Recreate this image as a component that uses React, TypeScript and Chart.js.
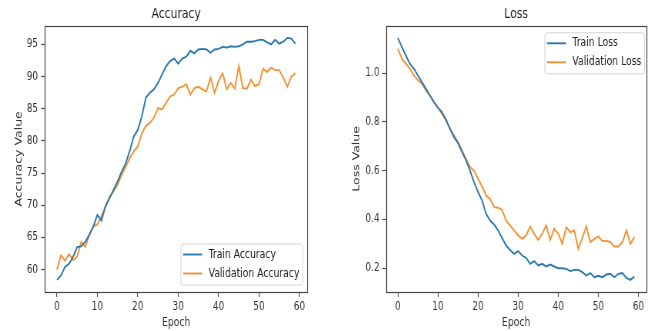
import React, { useEffect, useRef } from "react";
import { Chart, registerables } from "chart.js";

Chart.register(...registerables);

const FONT = "'DejaVu Sans', sans-serif";
// horizontal squeeze of the whole picture (the reference is horizontally compressed)
const K = 0.77;

const epochs = [
  0, 1, 2, 3, 4, 5, 6, 7, 8, 9, 10, 11, 12, 13, 14, 15, 16, 17, 18, 19,
  20, 21, 22, 23, 24, 25, 26, 27, 28, 29, 30, 31, 32, 33, 34, 35, 36, 37, 38, 39,
  40, 41, 42, 43, 44, 45, 46, 47, 48, 49, 50, 51, 52, 53, 54, 55, 56, 57, 58, 59,
];

const trainAcc = [
  58.4, 59.1, 60.4, 60.9, 62.0, 63.5, 63.6, 64.3, 65.4, 66.7,
  68.5, 67.6, 69.8, 71.1, 72.4, 73.7, 75.2, 76.5, 78.4, 80.7,
  81.7, 83.8, 86.7, 87.5, 88.0, 89.0, 90.3, 91.6, 92.4, 92.8,
  92.0, 92.8, 93.1, 94.0, 93.6, 94.2, 94.3, 94.2, 93.7, 94.2,
  94.3, 94.6, 94.5, 94.7, 94.6, 94.7, 95.0, 95.4, 95.4, 95.5,
  95.7, 95.7, 95.3, 95.0, 95.7, 95.1, 95.4, 96.0, 95.9, 95.1,
];

const valAcc = [
  60.0, 62.2, 61.4, 62.4, 61.5, 62.0, 64.3, 63.5, 65.4, 66.7,
  67.0, 68.3, 69.8, 71.3, 72.1, 73.2, 74.7, 76.0, 77.3, 78.4,
  79.1, 81.2, 82.3, 82.8, 83.6, 85.1, 84.9, 85.9, 86.9, 87.2,
  88.2, 88.4, 88.8, 87.2, 88.2, 88.4, 88.0, 87.7, 89.8, 87.5,
  89.3, 90.5, 88.0, 89.0, 88.1, 91.6, 88.2, 88.1, 89.5, 88.5,
  88.8, 91.2, 90.7, 91.4, 91.0, 91.0, 89.8, 88.4, 90.0, 90.5,
];

const trainLoss = [
  1.144, 1.107, 1.072, 1.038, 1.018, 0.990, 0.963, 0.936, 0.908, 0.881,
  0.858, 0.840, 0.809, 0.772, 0.737, 0.713, 0.676, 0.642, 0.600, 0.553,
  0.512, 0.478, 0.423, 0.395, 0.379, 0.355, 0.324, 0.293, 0.275, 0.259,
  0.270, 0.252, 0.242, 0.218, 0.229, 0.211, 0.218, 0.207, 0.215, 0.207,
  0.200, 0.200, 0.197, 0.188, 0.193, 0.193, 0.184, 0.170, 0.180, 0.163,
  0.169, 0.163, 0.174, 0.177, 0.163, 0.177, 0.180, 0.160, 0.152, 0.166,
];

const valLoss = [
  1.100, 1.059, 1.038, 1.018, 0.990, 0.970, 0.956, 0.929, 0.908, 0.881,
  0.858, 0.833, 0.806, 0.772, 0.744, 0.717, 0.683, 0.649, 0.614, 0.600,
  0.566, 0.535, 0.498, 0.484, 0.450, 0.448, 0.439, 0.395, 0.375, 0.355,
  0.334, 0.320, 0.334, 0.371, 0.341, 0.316, 0.341, 0.375, 0.316, 0.361,
  0.341, 0.300, 0.368, 0.348, 0.355, 0.279, 0.324, 0.371, 0.307, 0.320,
  0.330, 0.311, 0.313, 0.307, 0.289, 0.289, 0.307, 0.355, 0.300, 0.327,
];

const xTicks = [0, 10, 20, 30, 40, 50, 60];
const accTicks = [60, 65, 70, 75, 80, 85, 90, 95];
const lossTicks = [0.2, 0.4, 0.6, 0.8, 1.0];

const BLUE = "#2b78ae";
const ORANGE = "#f39130";

const framePlugin = {
  id: "frame",
  afterDraw(chart: any) {
    const { ctx, chartArea } = chart;
    ctx.save();
    ctx.strokeStyle = "#444";
    ctx.lineWidth = 1.2;
    ctx.strokeRect(
      Math.round(chartArea.left) + 0.5,
      Math.round(chartArea.top) + 0.5,
      Math.round(chartArea.right - chartArea.left),
      Math.round(chartArea.bottom - chartArea.top)
    );
    ctx.restore();
  },
};

const legendPlugin = {
  id: "mplLegend",
  afterDraw(chart: any, _args: any, opts: any) {
    const { ctx, chartArea } = chart;
    const ds = chart.data.datasets;
    ctx.save();
    ctx.font = `12px ${FONT}`;
    const textW = Math.max(...ds.map((d: any) => ctx.measureText(d.label).width));
    const w = (28 + 3) / K + textW;
    const h = 41;
    const x = chartArea.right - opts.padX / K - w;
    const y = opts.loc === "lower right" ? chartArea.bottom - opts.padY - h : chartArea.top + opts.padY;
    ctx.beginPath();
    (ctx as any).roundRect(x + 0.5, y + 0.5, w, h, 3);
    ctx.fillStyle = "rgba(255,255,255,0.85)";
    ctx.fill();
    ctx.strokeStyle = "#d4d4d4";
    ctx.lineWidth = 1;
    ctx.stroke();
    ds.forEach((d: any, i: number) => {
      const cy = y + 11 + i * 19;
      ctx.beginPath();
      ctx.moveTo(x + 2.5 / K, cy);
      ctx.lineTo(x + 21.5 / K, cy);
      ctx.strokeStyle = d.borderColor;
      ctx.lineWidth = 1.9;
      ctx.stroke();
      ctx.fillStyle = "#222";
      ctx.textBaseline = "middle";
      ctx.textAlign = "left";
      ctx.fillText(d.label, x + 28 / K, cy);
    });
    ctx.restore();
  },
};

function range(a: number[], b: number[]) {
  const all = a.concat(b);
  const mn = Math.min(...all);
  const mx = Math.max(...all);
  const m = (mx - mn) * 0.05;
  return [mn - m, mx + m];
}

function makeConfig(p: any) {
  const [ymin, ymax] = range(p.a, p.b);
  const xm = (epochs[epochs.length - 1] - epochs[0]) * 0.05;
  return {
    type: "line",
    data: {
      datasets: [
        { label: p.la, data: epochs.map((e, i) => ({ x: e, y: p.a[i] })), borderColor: BLUE, backgroundColor: BLUE, borderWidth: 1.9, pointRadius: 0, tension: 0 },
        { label: p.lb, data: epochs.map((e, i) => ({ x: e, y: p.b[i] })), borderColor: ORANGE, backgroundColor: ORANGE, borderWidth: 1.9, pointRadius: 0, tension: 0 },
      ],
    },
    options: {
      animation: false,
      responsive: false,
      devicePixelRatio: 1,
      layout: { padding: { left: 0, right: p.padRight / K, top: 0, bottom: 0 } },
      plugins: {
        legend: { display: false },
        tooltip: { enabled: false },
        title: {
          display: true,
          text: p.title,
          fullSize: false,
          color: "#222",
          font: { family: FONT, size: 14, weight: "normal" },
          padding: { top: 6, bottom: 3 },
        },
        mplLegend: p.legend,
      },
      scales: {
        x: {
          type: "linear",
          min: epochs[0] - xm,
          max: epochs[epochs.length - 1] + xm,
          afterBuildTicks: (s: any) => { s.ticks = xTicks.map((v) => ({ value: v })); },
          afterFit: (s: any) => { s.height = 39; },
          grid: { drawOnChartArea: false, drawTicks: true, tickLength: 5, color: "#555", tickWidth: 1.2 },
          border: { display: false },
          ticks: { color: "#333", font: { family: FONT, size: 11.5 }, padding: 3, maxRotation: 0, autoSkip: false },
          title: { display: true, text: "Epoch", color: "#333", font: { family: FONT, size: 12 }, padding: { top: 0, bottom: 1 } },
        },
        y: {
          type: "linear",
          min: ymin,
          max: ymax,
          afterBuildTicks: (s: any) => { s.ticks = p.yTicks.map((v: number) => ({ value: v })); },
          afterFit: (s: any) => { s.width = p.yWidth / K; },
          grid: { drawOnChartArea: false, drawTicks: true, tickLength: 4 / K, color: "#555", tickWidth: 1.2 },
          border: { display: false },
          ticks: { color: "#333", font: { family: FONT, size: 11.5 }, padding: p.yTickPad / K, callback: p.fmt, autoSkip: false },
          title: { display: true, text: p.yTitle, color: "#333", font: { family: FONT, size: 12.5 }, padding: { top: p.yTitleX / K - 7.5, bottom: 0 } },
        },
      },
    },
    plugins: [framePlugin, legendPlugin],
  };
}

function ChartBox({ config, left, width }: any) {
  const ref = useRef<HTMLCanvasElement>(null);
  const iw = Math.round(width / K);
  useEffect(() => {
    const chart = new Chart(ref.current as HTMLCanvasElement, config);
    return () => chart.destroy();
  }, []);
  return (
    <canvas
      ref={ref}
      width={iw}
      height={331}
      style={{
        position: "absolute",
        left,
        top: 0,
        width: iw,
        height: 331,
        transform: `scaleX(${K})`,
        transformOrigin: "0 0",
      }}
    />
  );
}

const accConfig = makeConfig({
  a: trainAcc, b: valAcc, la: "Train Accuracy", lb: "Validation Accuracy",
  title: "Accuracy", yTitle: "Accuracy Value", yTicks: accTicks,
  fmt: (v: number) => String(v), yWidth: 45, padRight: 23, yTitleX: 19, yTickPad: 3,
  legend: { loc: "lower right", padX: 5, padY: 7.5 },
});

const lossConfig = makeConfig({
  a: trainLoss, b: valLoss, la: "Train Loss", lb: "Validation Loss",
  title: "Loss", yTitle: "Loss Value", yTicks: lossTicks,
  fmt: (v: number) => v.toFixed(1), yWidth: 56, padRight: 11, yTitleX: 27, yTickPad: 2.5,
  legend: { loc: "upper right", padX: 2, padY: 6.5 },
});

export default function App() {
  return (
    <div style={{ position: "fixed", left: 0, top: 0, width: 657, height: 331, background: "#fff", overflow: "hidden" }}>
      <ChartBox config={accConfig} left={0} width={330} />
      <ChartBox config={lossConfig} left={330} width={327} />
    </div>
  );
}
